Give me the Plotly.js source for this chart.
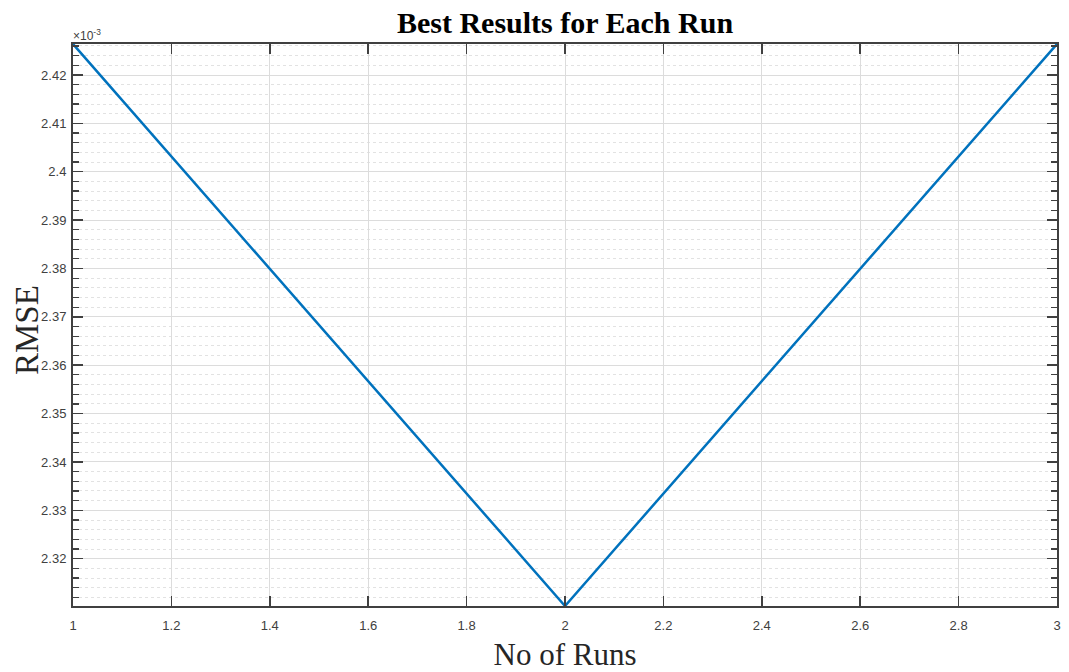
<!DOCTYPE html>
<html>
<head>
<meta charset="utf-8">
<script src="https://cdn.plot.ly/plotly-3.0.1.min.js"></script>
<style>html,body{margin:0;padding:0;background:#fff;}#chart{width:1069px;height:672px;}</style>
</head>
<body>
<div id="chart"></div>
<script>
// Data (RMSE shown in units of 1e-3, as in the original axis multiplier)
const runs = [1, 2, 3];
const rmse_e3 = [2.42641, 2.31022, 2.42641];
const xTickVals = [1, 1.2, 1.4, 1.6, 1.8, 2, 2.2, 2.4, 2.6, 2.8, 3];
const yTickVals = [2.32, 2.33, 2.34, 2.35, 2.36, 2.37, 2.38, 2.39, 2.4, 2.41, 2.42];

const axisColor = '#404040';
const trace = {
  x: runs, y: rmse_e3, type: 'scatter', mode: 'lines',
  line: {color: '#0072BD', width: 2.5}, hoverinfo: 'x+y'
};
const ymin = Math.min(...rmse_e3), ymax = Math.max(...rmse_e3);
const layout = {
  width: 1069, height: 672,
  margin: {l: 73, r: 12, t: 44, b: 66},
  paper_bgcolor: '#ffffff', plot_bgcolor: '#ffffff',
  showlegend: false,
  title: {text: '<b>Best Results for Each Run</b>', font: {family: 'Liberation Serif, Times New Roman, serif', size: 30, color: '#000'},
          x: 0.5, xref: 'paper', y: 0.967, yref: 'container', yanchor: 'middle'},
  xaxis: {
    range: [runs[0], runs[runs.length - 1]],
    tickvals: xTickVals, ticktext: xTickVals.map(String),
    ticks: 'inside', ticklen: 10, tickcolor: axisColor, tickwidth: 1.5,
    showline: true, linecolor: axisColor, linewidth: 2, mirror: 'ticks',
    showgrid: true, gridcolor: '#dcdcdc', gridwidth: 1,
    zeroline: false, ticklabelstandoff: 6,
    tickfont: {family: 'Liberation Sans, Arial, sans-serif', size: 13, color: axisColor},
    title: {text: 'No of Runs', font: {family: 'Liberation Serif, Times New Roman, serif', size: 31, color: '#262626'}, standoff: 16}
  },
  yaxis: {
    range: [ymin, ymax],
    tickvals: yTickVals, ticktext: yTickVals.map(String),
    ticks: 'inside', ticklen: 10, tickcolor: axisColor, tickwidth: 1.5,
    showline: true, linecolor: axisColor, linewidth: 2, mirror: 'ticks',
    showgrid: true, gridcolor: '#dcdcdc', gridwidth: 1,
    zeroline: false, ticklabelstandoff: 2,
    minor: {dtick: 0.002, tick0: 2.32, ticks: 'inside', ticklen: 6, tickcolor: axisColor, tickwidth: 1.2,
            showgrid: true, gridcolor: '#e2e2e2', griddash: 'dot', gridwidth: 1},
    tickfont: {family: 'Liberation Sans, Arial, sans-serif', size: 13, color: axisColor}
  },
  annotations: [{
    text: '×10<sup>-3</sup>', xref: 'paper', yref: 'paper', x: 0, y: 1, xanchor: 'left', yanchor: 'bottom',
    showarrow: false, font: {family: 'Liberation Sans, Arial, sans-serif', size: 12, color: axisColor}, xshift: -2, yshift: -1
  }, {
    text: 'RMSE', xref: 'paper', yref: 'paper', x: 0, y: 0.5, xanchor: 'center', yanchor: 'middle',
    textangle: -90, showarrow: false, xshift: -46, yshift: -5,
    font: {family: 'Liberation Serif, Times New Roman, serif', size: 33, color: '#262626'}
  }]
};
Plotly.newPlot('chart', [trace], layout, {displayModeBar: false, staticPlot: true});
</script>
</body>
</html>
